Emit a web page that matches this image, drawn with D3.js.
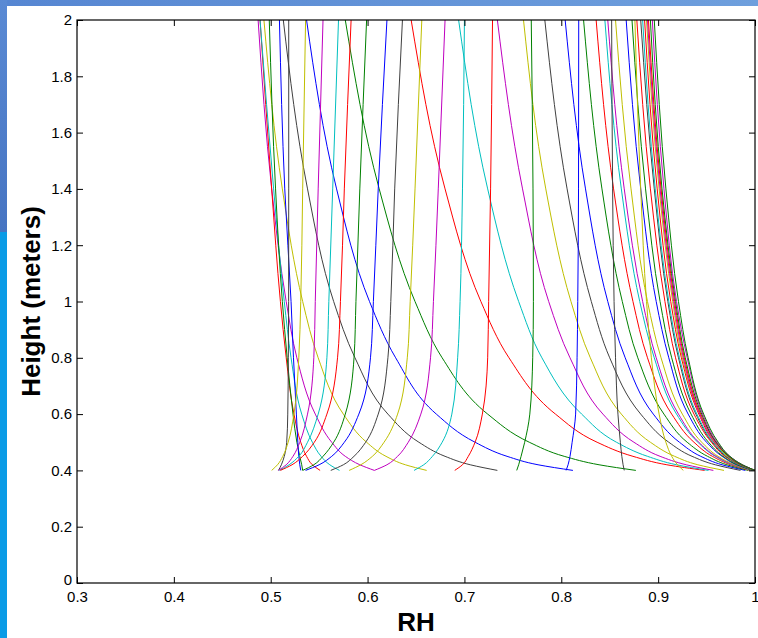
<!DOCTYPE html>
<html>
<head>
<meta charset="utf-8">
<script src="https://cdn.jsdelivr.net/npm/d3@7"></script>
<style>
  body { margin: 0; background: #fff; }
  svg { display: block; font-family: "Liberation Sans", Arial, Helvetica, sans-serif; }
</style>
</head>
<body>
<svg id="chart"></svg>
<script>
const heights = [2.0, 1.4, 1.0, 0.8, 0.6, 0.5, 0.45, 0.42, 0.4];

// line colour code of each profile (matlab colour order letters)
const profileColors = [
  "m","r","c","y","g","b","k","b","g","r","c","m","y","k","b","g","r",
  "c","m","y","b","g","y","r","k","c","r","y","m","r","g","m","g",
  "k","y","c","m","r","g","b","k","y","m","c","r","g","b","k"
];

// RH values of each profile, one per height above
const rhProfiles = [
  [0.487, 0.501, 0.516, 0.527, 0.546, 0.563, 0.577, 0.592, 0.607],
  [0.489, 0.501, 0.510, 0.516, 0.524, 0.531, 0.537, 0.543, 0.551],
  [0.489, 0.503, 0.514, 0.521, 0.532, 0.543, 0.552, 0.561, 0.571],
  [0.493, 0.512, 0.533, 0.549, 0.575, 0.599, 0.619, 0.639, 0.661],
  [0.4985, 0.505, 0.512, 0.517, 0.523, 0.527, 0.530, 0.532, 0.533],
  [0.509, 0.5145, 0.521, 0.5235, 0.5265, 0.528, 0.529, 0.530, 0.531],
  [0.513, 0.538, 0.565, 0.587, 0.621, 0.653, 0.680, 0.706, 0.734],
  [0.537, 0.568, 0.602, 0.629, 0.671, 0.711, 0.744, 0.776, 0.812],
  [0.577, 0.612, 0.649, 0.677, 0.724, 0.767, 0.803, 0.839, 0.877],
  [0.645, 0.680, 0.717, 0.746, 0.794, 0.837, 0.874, 0.909, 0.948],
  [0.694, 0.724, 0.756, 0.780, 0.821, 0.857, 0.889, 0.919, 0.952],
  [0.734, 0.760, 0.787, 0.809, 0.843, 0.875, 0.902, 0.929, 0.957],
  [0.761, 0.784, 0.810, 0.830, 0.862, 0.892, 0.917, 0.941, 0.968],
  [0.783, 0.806, 0.831, 0.850, 0.882, 0.911, 0.935, 0.959, 0.985],
  [0.804, 0.825, 0.848, 0.866, 0.895, 0.922, 0.944, 0.966, 0.990],
  [0.823, 0.842, 0.863, 0.879, 0.906, 0.930, 0.951, 0.971, 0.993],
  [0.836, 0.854, 0.874, 0.889, 0.914, 0.937, 0.956, 0.975, 0.995],
  [0.845, 0.862, 0.881, 0.896, 0.919, 0.941, 0.959, 0.977, 0.996],
  [0.848, 0.865, 0.884, 0.898, 0.921, 0.942, 0.960, 0.978, 0.997],
  [0.856, 0.872, 0.889, 0.903, 0.925, 0.945, 0.962, 0.979, 0.997],
  [0.867, 0.882, 0.898, 0.911, 0.931, 0.950, 0.966, 0.981, 0.998],
  [0.873, 0.887, 0.902, 0.914, 0.934, 0.952, 0.967, 0.982, 0.998],
  [0.876, 0.882, 0.888, 0.893, 0.901, 0.908, 0.914, 0.920, 0.926],
  [0.878, 0.892, 0.907, 0.918, 0.937, 0.955, 0.969, 0.984, 0.999],
  [0.882, 0.896, 0.910, 0.921, 0.939, 0.956, 0.970, 0.984, 0.999],
  [0.884, 0.897, 0.911, 0.922, 0.940, 0.957, 0.971, 0.984, 0.999],
  [0.886, 0.899, 0.913, 0.924, 0.942, 0.958, 0.972, 0.985, 1.000],
  [0.888, 0.901, 0.915, 0.925, 0.943, 0.959, 0.972, 0.986, 1.000],
  [0.889, 0.902, 0.916, 0.926, 0.943, 0.959, 0.973, 0.986, 1.000],
  [0.890, 0.903, 0.917, 0.927, 0.944, 0.960, 0.973, 0.986, 1.000],
  [0.892, 0.904, 0.918, 0.928, 0.945, 0.960, 0.973, 0.986, 1.000],
  [0.894, 0.906, 0.919, 0.930, 0.946, 0.961, 0.974, 0.987, 1.000],
  [0.896, 0.908, 0.921, 0.931, 0.947, 0.962, 0.974, 0.987, 1.000],
  [0.5186, 0.5186, 0.5185, 0.5182, 0.5176, 0.5165, 0.514, 0.511, 0.508],
  [0.536, 0.533, 0.531, 0.529, 0.524, 0.518, 0.5125, 0.507, 0.501],
  [0.570, 0.564, 0.560, 0.558, 0.549, 0.538, 0.529, 0.519, 0.509],
  [0.554, 0.549, 0.546, 0.5445, 0.538, 0.530, 0.523, 0.516, 0.508],
  [0.583, 0.576, 0.572, 0.569, 0.558, 0.545, 0.533, 0.522, 0.510],
  [0.599, 0.592, 0.588, 0.586, 0.577, 0.565, 0.554, 0.5445, 0.533],
  [0.620, 0.611, 0.606, 0.603, 0.591, 0.576, 0.563, 0.550, 0.536],
  [0.636, 0.628, 0.624, 0.621, 0.611, 0.598, 0.586, 0.575, 0.562],
  [0.656, 0.649, 0.644, 0.641, 0.631, 0.617, 0.605, 0.593, 0.581],
  [0.680, 0.673, 0.668, 0.665, 0.655, 0.642, 0.631, 0.620, 0.607],
  [0.700, 0.698, 0.6955, 0.693, 0.687, 0.677, 0.667, 0.658, 0.648],
  [0.729, 0.727, 0.725, 0.724, 0.7185, 0.711, 0.704, 0.698, 0.690],
  [0.769, 0.7708, 0.7712, 0.7705, 0.7675, 0.7622, 0.7585, 0.756, 0.754],
  [0.818, 0.8178, 0.817, 0.8163, 0.8148, 0.8112, 0.809, 0.807, 0.805],
  [0.852, 0.853, 0.8545, 0.856, 0.8585, 0.861, 0.8625, 0.8638, 0.865]
];

const xTicks = [0.3, 0.4, 0.5, 0.6, 0.7, 0.8, 0.9, 1];
const yTicks = [0, 0.2, 0.4, 0.6, 0.8, 1, 1.2, 1.4, 1.6, 1.8, 2];

const width = 758, height = 638;
const marginLeft = 77, marginRight = 3, marginTop = 20, marginBottom = 55;

const colorOf = {b: "#0000ff", g: "#008000", r: "#ff0000", c: "#00bfbf",
                 m: "#bf00bf", y: "#bfbf00", k: "#404040"};

const x = d3.scaleLinear([0.3, 1], [marginLeft, width - marginRight]);
const y = d3.scaleLinear([0, 2], [height - marginBottom, marginTop]);

const svg = d3.select("#chart")
    .attr("width", width)
    .attr("height", height)
    .attr("viewBox", [0, 0, width, height]);

// window frame strips seen along the top and left edge of the screenshot
const defs = svg.append("defs");
const gTop = defs.append("linearGradient").attr("id", "topband");
gTop.append("stop").attr("offset", 0).attr("stop-color", "#5686d2");
gTop.append("stop").attr("offset", 1).attr("stop-color", "#6e9fdd");
const gLeft = defs.append("linearGradient").attr("id", "leftband")
    .attr("x1", 0).attr("x2", 0).attr("y1", 0).attr("y2", 1);
gLeft.append("stop").attr("offset", 0).attr("stop-color", "#5a8ad4");
gLeft.append("stop").attr("offset", 1).attr("stop-color", "#4674c2");

svg.append("rect").attr("x", 0).attr("y", 0).attr("width", width).attr("height", 6)
    .attr("fill", "url(#topband)");
svg.append("rect").attr("x", 0).attr("y", 0).attr("width", 7).attr("height", 232)
    .attr("fill", "url(#leftband)");
svg.append("rect").attr("x", 0).attr("y", 232).attr("width", 7).attr("height", height - 232)
    .attr("fill", "#0a9be6");

const line = d3.line()
    .x(d => x(d[1]))
    .y(d => y(d[0]))
    .curve(d3.curveMonotoneY);

svg.append("g")
    .attr("fill", "none")
    .attr("stroke-width", 1)
  .selectAll("path")
  .data(rhProfiles)
  .join("path")
    .attr("stroke", (d, i) => colorOf[profileColors[i]])
    .attr("d", d => line(d3.zip(heights, d)));

// axes with inward ticks, matlab style
const fmt = d => String(d);

const styleAxis = g => {
  g.attr("font-size", 15).attr("font-family", null);
  g.select(".domain").remove();
  g.selectAll(".tick line").attr("stroke", "#000");
  g.selectAll(".tick text").attr("fill", "#000");
};

svg.append("g")
    .attr("transform", `translate(0,${height - marginBottom})`)
    .call(d3.axisBottom(x).tickValues(xTicks).tickSize(-6).tickSizeOuter(0)
      .tickPadding(8).tickFormat(fmt))
    .call(styleAxis);

svg.append("g")
    .attr("transform", `translate(${marginLeft},0)`)
    .call(d3.axisLeft(y).tickValues(yTicks).tickSize(-6).tickSizeOuter(0)
      .tickPadding(5).tickFormat(fmt))
    .call(styleAxis)
    .call(g => g.selectAll(".tick text").filter(d => d === 0).attr("dy", "0.1em"));

svg.append("g")
    .attr("transform", `translate(0,${marginTop})`)
    .call(d3.axisTop(x).tickValues(xTicks).tickSize(-6).tickSizeOuter(0).tickFormat(""))
    .call(styleAxis);

svg.append("g")
    .attr("transform", `translate(${width - marginRight},0)`)
    .call(d3.axisRight(y).tickValues(yTicks).tickSize(-6).tickSizeOuter(0).tickFormat(""))
    .call(styleAxis);

svg.append("rect")
    .attr("x", marginLeft)
    .attr("y", marginTop)
    .attr("width", width - marginRight - marginLeft)
    .attr("height", height - marginBottom - marginTop)
    .attr("fill", "none")
    .attr("stroke", "#000")
    .attr("stroke-width", 1.2);

svg.append("text")
    .attr("x", (marginLeft + width - marginRight) / 2)
    .attr("y", 631)
    .attr("text-anchor", "middle")
    .attr("font-size", 26)
    .attr("font-weight", "bold")
    .text("RH");

svg.append("text")
    .attr("transform", `translate(40,${(marginTop + height - marginBottom) / 2}) rotate(-90)`)
    .attr("text-anchor", "middle")
    .attr("font-size", 26)
    .attr("font-weight", "bold")
    .text("Height (meters)");
</script>
</body>
</html>
